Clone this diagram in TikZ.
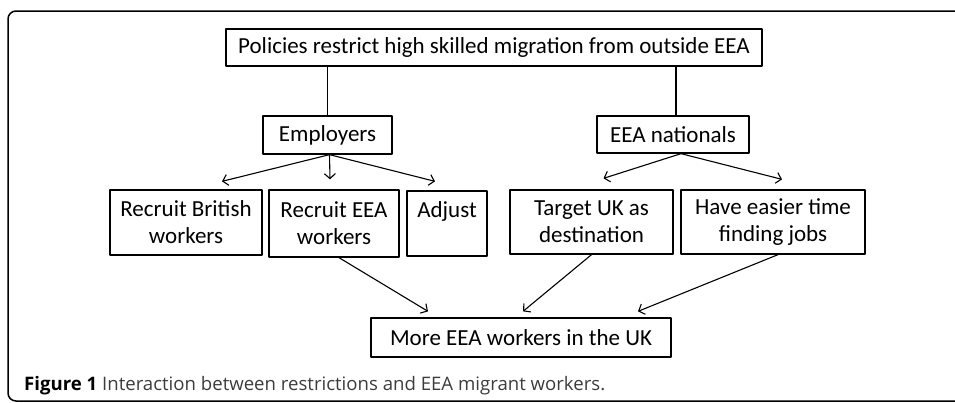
\documentclass[tikz,border=0pt]{standalone}
\usepackage{fontspec}
\setmainfont{Carlito}
\newfontfamily\capfont{Open Sans}
\usetikzlibrary{arrows.meta, calc}
\definecolor{capgray}{RGB}{60,60,60}

\begin{document}
\begin{tikzpicture}[x=1pt, y=-1pt, >={Straight Barb[length=5pt,width=11pt]},
	line cap=round, line join=round, font=\fontsize{23}{27}\selectfont,
	box/.style={draw, line width=1.3pt, align=center, inner sep=0pt},
	link/.style={line width=1.1pt},
	flow/.style={->, line width=1.1pt}]
		
		\useasboundingbox (0,0) rectangle (955,402);
		\clip (0,0) rectangle (955,402);
		
		%========================
		% frame and caption
		%========================
		\draw[line width=1.5pt, rounded corners=8pt]
		(970,11) -- (8,11) -- (8,401) -- (970,401);
		\node[anchor=base west, inner sep=0pt, capgray, font=\capfont\fontsize{18.6}{22}\selectfont] (cap) at (24,390)
		{\textbf{\color{black}Figure 1} Interaction between restrictions and EEA migrant workers.};
		
		%========================
		% boxes
		%========================
		\node[box, minimum width=536pt, minimum height=37pt] (policy) at (494,47.5)
		{Policies restrict high skilled migration from outside EEA};
		
		\node[box, minimum width=129pt, minimum height=38pt] (emp) at (327.5,135) {Employers};
		\node[box, minimum width=152pt, minimum height=37pt] (eea) at (673,134.5) {EEA nationals};
		
		% employers' options
		\node[box, minimum width=152pt, minimum height=65pt] (british) at (186,222.5) {Recruit British\\workers};
		\node[box, minimum width=130pt, minimum height=67pt] (recruit) at (334,223.5) {Recruit EEA\\workers};
		\node[box, minimum width=80pt, minimum height=65pt] (adjust) at (447,223.5) {Adjust\\~};
		
		% EEA nationals' responses
		\node[box, minimum width=163pt, minimum height=64pt] (target) at (591.5,222) {Target UK as\\destination};
		\node[box, minimum width=184pt, minimum height=64pt] (easier) at (773,222) {Have easier time\\finding jobs};
		
		% outcome
		\node[box, minimum width=300pt, minimum height=39pt] (more) at (521,337.5) {More EEA workers in the UK};
		
		%========================
		% connectors
		%========================
		\draw[link] (policy.south -| emp.north) -- (emp.north);
		\draw[link] ([xshift=3pt]policy.south -| eea.north) -- ([xshift=3pt]eea.north);
		
		\draw[flow] ([xshift=2pt]emp.south) -- ([shift={(36,-8)}]british.north);
		\draw[flow] ([xshift=2pt]emp.south) -- ([shift={(-4,-10)}]recruit.north);
		\draw[flow] ([xshift=2pt]emp.south) -- ([shift={(-12,-9)}]adjust.north);
		
		\draw[flow] ([xshift=8pt]eea.south) -- ([shift={(12,-11)}]target.north);
		\draw[flow] ([xshift=8pt]eea.south) -- ([shift={(9,-10)}]easier.north);
		
		\draw[flow] ([xshift=5pt]recruit.south) -- ([shift={(-93,-6)}]more.north);
		\draw[flow] (target.south) -- ([shift={(2,-6)}]more.north);
		\draw[flow] ([xshift=5pt]easier.south) -- ([shift={(117,-6)}]more.north);
		
	\end{tikzpicture}
\end{document}
